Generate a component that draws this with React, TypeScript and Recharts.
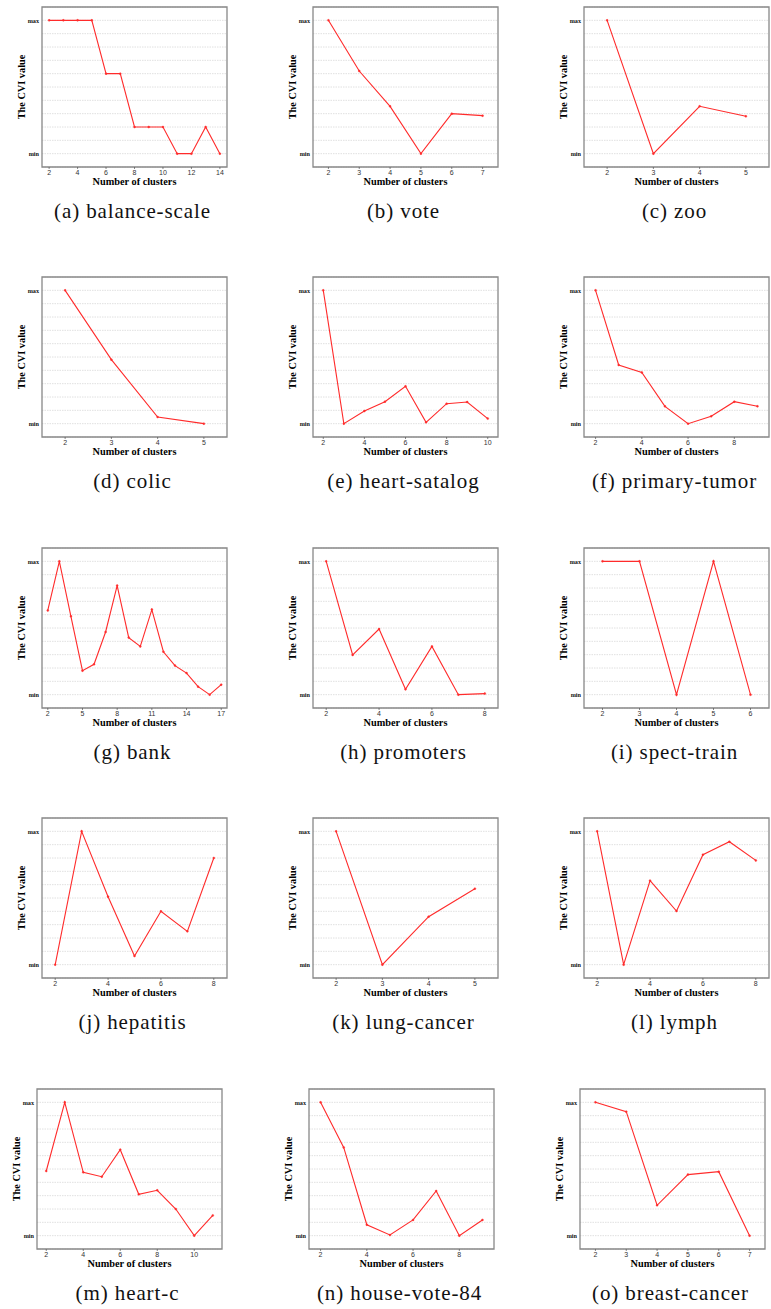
import React from 'react';
import { LineChart, Line, XAxis, YAxis, CartesianGrid, ReferenceArea, Label } from 'recharts';

// ---- shared y scale (CVI normalised between min and max) ----
const CVI_TICKS = [0, 0.1, 0.2, 0.3, 0.4, 0.5, 0.6, 0.7, 0.8, 0.9, 1];
const CVI_DOMAIN: [number, number] = [-0.1, 1.1];

// ---- (a) balance-scale ----
const balanceScaleClusters = [2, 3, 4, 5, 6, 7, 8, 9, 10, 11, 12, 13, 14];
const balanceScaleCvi = [1, 1, 1, 1, 0.6, 0.6, 0.2, 0.2, 0.2, 0, 0, 0.2, 0];
const balanceScaleTicks = [2, 4, 6, 8, 10, 12, 14];

// ---- (b) vote ----
const voteClusters = [2, 3, 4, 5, 6, 7];
const voteCvi = [1, 0.62, 0.355, 0, 0.3, 0.285];
const voteTicks = [2, 3, 4, 5, 6, 7];

// ---- (c) zoo ----
const zooClusters = [2, 3, 4, 5];
const zooCvi = [1, 0, 0.355, 0.28];
const zooTicks = [2, 3, 4, 5];

// ---- (d) colic ----
const colicClusters = [2, 3, 4, 5];
const colicCvi = [1, 0.48, 0.05, 0];
const colicTicks = [2, 3, 4, 5];

// ---- (e) heart-satalog ----
const heartSatalogClusters = [2, 3, 4, 5, 6, 7, 8, 9, 10];
const heartSatalogCvi = [1, 0, 0.095, 0.165, 0.28, 0.01, 0.15, 0.162, 0.038];
const heartSatalogTicks = [2, 4, 6, 8, 10];

// ---- (f) primary-tumor ----
const primaryTumorClusters = [2, 3, 4, 5, 6, 7, 8, 9];
const primaryTumorCvi = [1, 0.44, 0.384, 0.13, 0, 0.055, 0.165, 0.13];
const primaryTumorTicks = [2, 4, 6, 8];

// ---- (g) bank ----
const bankClusters = [2, 3, 4, 5, 6, 7, 8, 9, 10, 11, 12, 13, 14, 15, 16, 17];
const bankCvi = [0.632, 1, 0.588, 0.18, 0.228, 0.47, 0.818, 0.428, 0.362, 0.638, 0.322, 0.218, 0.162, 0.06, 0, 0.075];
const bankTicks = [2, 5, 8, 11, 14, 17];

// ---- (h) promoters ----
const promotersClusters = [2, 3, 4, 5, 6, 7, 8];
const promotersCvi = [1, 0.298, 0.492, 0.04, 0.362, 0, 0.008];
const promotersTicks = [2, 4, 6, 8];

// ---- (i) spect-train ----
const spectTrainClusters = [2, 3, 4, 5, 6];
const spectTrainCvi = [1, 1, 0, 1, 0];
const spectTrainTicks = [2, 3, 4, 5, 6];

// ---- (j) hepatitis ----
const hepatitisClusters = [2, 3, 4, 5, 6, 7, 8];
const hepatitisCvi = [0, 1, 0.51, 0.065, 0.4, 0.25, 0.8];
const hepatitisTicks = [2, 4, 6, 8];

// ---- (k) lung-cancer ----
const lungCancerClusters = [2, 3, 4, 5];
const lungCancerCvi = [1, 0, 0.36, 0.57];
const lungCancerTicks = [2, 3, 4, 5];

// ---- (l) lymph ----
const lymphClusters = [2, 3, 4, 5, 6, 7, 8];
const lymphCvi = [1, 0, 0.63, 0.402, 0.825, 0.922, 0.782];
const lymphTicks = [2, 4, 6, 8];

// ---- (m) heart-c ----
const heartCClusters = [2, 3, 4, 5, 6, 7, 8, 9, 10, 11];
const heartCCvi = [0.485, 1, 0.475, 0.442, 0.645, 0.31, 0.34, 0.2, 0, 0.152];
const heartCTicks = [2, 4, 6, 8, 10];

// ---- (n) house-vote-84 ----
const houseVoteClusters = [2, 3, 4, 5, 6, 7, 8, 9];
const houseVoteCvi = [1, 0.662, 0.082, 0.005, 0.118, 0.335, 0, 0.118];
const houseVoteTicks = [2, 4, 6, 8];

// ---- (o) breast-cancer ----
const breastCancerClusters = [2, 3, 4, 5, 6, 7];
const breastCancerCvi = [1, 0.93, 0.228, 0.458, 0.48, 0];
const breastCancerTicks = [2, 3, 4, 5, 6, 7];

// ---- captions ----
const captions = [
  '(a) balance-scale', '(b) vote', '(c) zoo',
  '(d) colic', '(e) heart-satalog', '(f) primary-tumor',
  '(g) bank', '(h) promoters', '(i) spect-train',
  '(j) hepatitis', '(k) lung-cancer', '(l) lymph',
  '(m) heart-c', '(n) house-vote-84', '(o) breast-cancer',
];

const panelData = [
  [balanceScaleClusters, balanceScaleCvi, balanceScaleTicks],
  [voteClusters, voteCvi, voteTicks],
  [zooClusters, zooCvi, zooTicks],
  [colicClusters, colicCvi, colicTicks],
  [heartSatalogClusters, heartSatalogCvi, heartSatalogTicks],
  [primaryTumorClusters, primaryTumorCvi, primaryTumorTicks],
  [bankClusters, bankCvi, bankTicks],
  [promotersClusters, promotersCvi, promotersTicks],
  [spectTrainClusters, spectTrainCvi, spectTrainTicks],
  [hepatitisClusters, hepatitisCvi, hepatitisTicks],
  [lungCancerClusters, lungCancerCvi, lungCancerTicks],
  [lymphClusters, lymphCvi, lymphTicks],
  [heartCClusters, heartCCvi, heartCTicks],
  [houseVoteClusters, houseVoteCvi, houseVoteTicks],
  [breastCancerClusters, breastCancerCvi, breastCancerTicks],
];

// layout (plot box positions)
const ROW_TOPS = [7, 277, 548, 818, 1089];
const ROW_CAPTION_Y = [213, 483, 754, 1024, 1295];
const COL_LEFTS = [
  [42, 313, 584],
  [42, 313, 584],
  [42, 313, 584],
  [42, 313, 584],
  [37, 309, 580],
];

const BOX_W = 185;
const BOX_H = 160;
const Y_AXIS_W = 42;
const X_AXIS_H = 33;
const TOP_M = 7;
const RIGHT_M = 3;
const RED = '#ff2b2b';
const SERIF = '"Liberation Serif", "Times New Roman", serif';

function Panel({ clusters, cvi, ticks, caption, left, top, capY }: any) {
  const data = clusters.map((c: number, i: number) => ({ k: c, v: cvi[i] }));
  const xmin = clusters[0] - 0.5;
  const xmax = clusters[clusters.length - 1] + 0.5;
  const W = Y_AXIS_W + BOX_W + RIGHT_M;
  const H = TOP_M + BOX_H + X_AXIS_H;
  const capX = left + BOX_W / 2 - 2;
  return (
    <>
      <div style={{ position: 'absolute', left: left - Y_AXIS_W, top: top - TOP_M, width: W, height: H }}>
        <LineChart width={W} height={H} data={data} margin={{ top: TOP_M, right: RIGHT_M, bottom: 0, left: 0 }}>
          <CartesianGrid vertical={false} stroke="#d8d8d8" strokeDasharray="1.5 1" strokeWidth={0.8} />
          <XAxis
            dataKey="k"
            type="number"
            domain={[xmin, xmax]}
            ticks={ticks}
            allowDataOverflow
            interval={0}
            height={X_AXIS_H}
            tickSize={2}
            tickMargin={1.5}
            axisLine={false}
            tickLine={{ stroke: '#555', strokeWidth: 0.7 }}
            tick={{ fontSize: 7, fill: '#333', fontFamily: '"Liberation Sans", Arial, sans-serif' }}
          >
            <Label
              value="Number of clusters"
              position="insideBottom"
              offset={15}
              style={{ fontFamily: SERIF, fontWeight: 'bold', fontSize: 10.3, fill: '#000' }}
            />
          </XAxis>
          <YAxis
            type="number"
            domain={CVI_DOMAIN}
            ticks={CVI_TICKS}
            allowDataOverflow
            interval={0}
            width={Y_AXIS_W}
            tickSize={3}
            tickMargin={0}
            tickLine={false}
            axisLine={false}
            tickFormatter={(v: number) => (v === 1 ? 'max' : v === 0 ? 'min' : '')}
            tick={{ fontSize: 6.2, fill: '#111', fontWeight: 'bold', fontFamily: SERIF }}
          >
            <Label
              value="The CVI value"
              angle={-90}
              position="insideLeft"
              offset={21}
              style={{ textAnchor: 'middle', fontFamily: SERIF, fontWeight: 'bold', fontSize: 10.3, fill: '#000' }}
            />
          </YAxis>
          <ReferenceArea
            x1={xmin}
            x2={xmax}
            y1={CVI_DOMAIN[0]}
            y2={CVI_DOMAIN[1]}
            fill="none"
            fillOpacity={0}
            stroke="#888"
            strokeWidth={1.3}
            ifOverflow="visible"
          />
          <Line
            dataKey="v"
            type="linear"
            stroke={RED}
            strokeWidth={1.1}
            dot={{ r: 1, fill: RED, stroke: RED, strokeWidth: 0.4 }}
            activeDot={false}
            isAnimationActive={false}
          />
        </LineChart>
      </div>
      <div
        style={{
          position: 'absolute',
          left: capX - 130,
          width: 260,
          top: capY - 14,
          height: 24,
          lineHeight: '24px',
          textAlign: 'center',
          fontFamily: SERIF,
          fontSize: 21,
          letterSpacing: 0.9,
          whiteSpace: 'nowrap',
          color: '#111',
        }}
      >
        {caption}
      </div>
    </>
  );
}

export default function App() {
  return (
    <div style={{ position: 'absolute', left: 0, top: 0, width: 771, height: 1309, background: '#fff', overflow: 'hidden' }}>
      {panelData.map((pd, i) => {
        const r = Math.floor(i / 3);
        const c = i % 3;
        return (
          <Panel
            key={i}
            clusters={pd[0]}
            cvi={pd[1]}
            ticks={pd[2]}
            caption={captions[i]}
            left={COL_LEFTS[r][c]}
            top={ROW_TOPS[r]}
            capY={ROW_CAPTION_Y[r]}
          />
        );
      })}
    </div>
  );
}
